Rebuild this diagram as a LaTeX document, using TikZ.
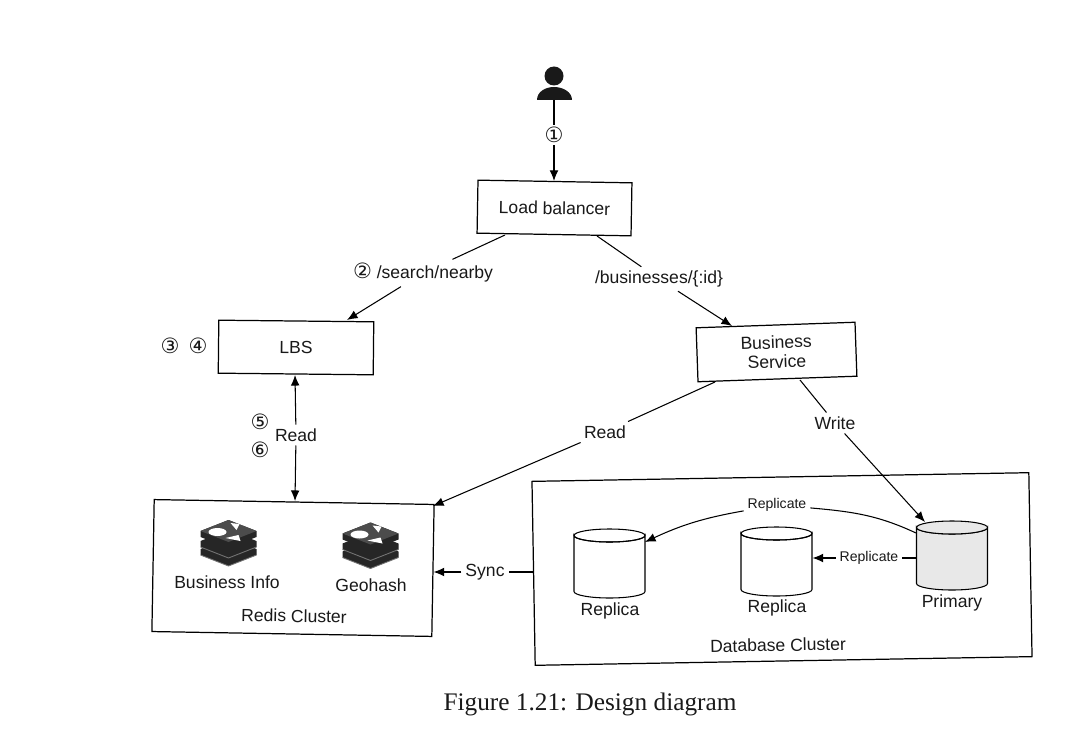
\documentclass[tikz,border=0pt]{standalone}
\usepackage{fontspec}
\setmainfont{Liberation Sans}
\newfontfamily\numfont{DejaVu Sans}
\newfontfamily\capfont{Liberation Serif}
\usetikzlibrary{arrows.meta, positioning}

\newcommand{\stepnum}[1]{{\numfont\fontsize{12}{12}\selectfont #1}}

\begin{document}
\begin{tikzpicture}[
        x=0.02cm, y=-0.02cm,
        line width=0.6pt,
        every node/.style={font=\fontsize{10}{12}\selectfont, text=black!90},
        box/.style={draw, line width=0.7pt, align=center, inner sep=0pt},
        label/.style={fill=white, inner sep=2pt},
        smalllabel/.style={fill=white, inner sep=2pt, font=\fontsize{8}{9}\selectfont},
        drumbox/.style={inner sep=0pt, minimum width=1.42cm, minimum height=1.38cm},
        arrow/.style={-{Latex[length=6pt, width=5pt]}},
        drum/.pic={
            \path[pic actions, draw] (-35.5,-28) -- (-35.5,28) arc (180:0:35.5 and 6.5) -- (35.5,-28)
                arc (0:180:35.5 and 6.5) -- cycle;
            \path[pic actions, draw] (0,-28) ellipse (35.5 and 6.5);
        },
        redisicon/.pic={
            \foreach \c in {6, -2} {
                \fill[black!85] (-28,\c) -- (0,\c-11) -- (28,\c) -- (28,\c+6) -- (0,\c+17) -- (-28,\c+6) -- cycle;
                \draw[black!55, line width=0.5pt] (-28,\c+6) -- (0,\c+17) -- (28,\c+6);
            }
            \fill[black!85] (-28,-12) -- (0,-23) -- (28,-12) -- (28,-6) -- (0,5) -- (-28,-6) -- cycle;
            \fill[black!70] (-28,-12) -- (0,-23) -- (28,-12) -- (0,-1) -- cycle;
            \fill[white] (-11,-11) ellipse (9 and 4);
            \fill[white] (2,-20) -- (11,-19) -- (8,-13) -- cycle;
            \fill[white] (-3,-5) -- (10,-8) -- (12,-2) -- cycle;
        }
    ]
    \useasboundingbox (0,0) rectangle (1077,729);

    % Person
    \fill[black!90] (554,76) circle (9.5);
    \fill[black!90] (537,100) .. controls (537,92) and (545,87) .. (554,87)
        .. controls (563,87) and (572,92) .. (572,100) -- cycle;
    \coordinate (user) at (554,100);

    % Services
    \node[box, rotate=-1, minimum width=3.08cm, minimum height=1.06cm] (lb) at (554.5,208) {Load balancer};
    \node[box, rotate=-0.6, minimum width=3.1cm, minimum height=1.06cm] (lbs) at (296,347.5) {LBS};
    \node[box, rotate=2, minimum width=3.18cm, minimum height=1.08cm] (bs) at (776.5,352) {Business\\[-1pt]Service};

    % Clusters
    \node[box, rotate=-1, minimum width=5.6cm, minimum height=2.64cm] (redis) at (293,568) {};
    \node[box, rotate=1, minimum width=9.94cm, minimum height=3.68cm] (db) at (782,569) {};

    \pic at (228.5,543) {redisicon};
    \pic at (370.5,545.5) {redisicon};
    \node (info) at (227,582) {Business Info};
    \node (geo) at (371,585) {Geohash};
    \node[rotate=-1] (redisname) at (294,616) {Redis Cluster};

    \node[drumbox] (rep1) at (609.5,563.5) {};
    \node[drumbox] (rep2) at (776.5,561.5) {};
    \node[drumbox] (prim) at (952,555.5) {};
    \pic at (rep1) {drum};
    \pic at (rep2) {drum};
    \pic[fill=black!9] at (prim) {drum};
    \node (rep1name) at (610,611) {Replica};
    \node (rep2name) at (777,608) {Replica};
    \node (primname) at (952,603) {Primary};
    \node[rotate=1] (dbname) at (778,645) {Database Cluster};

    % Labels on the lines
    \node[label, inner sep=1pt] (one) at (554,135) {\stepnum{①}};
    \node[label] (search) at (423,273) {\stepnum{②} /search/nearby};
    \node[label] (biz) at (659,279) {/businesses/\{:id\}};
    \node[label] (lbsread) at (296,435) {Read};
    \node[label] (bsread) at (605,432) {Read};
    \node[label] (write) at (835,423) {Write};
    \node[label] (sync) at (485,572) {Sync};
    \node[smalllabel] (rep1label) at (777,505) {Replicate};
    \node[smalllabel] (rep2label) at (869,558) {Replicate};

    \node (three) at (170,346) {\stepnum{③}};
    \node (four) at (198,346) {\stepnum{④}};
    \node (five) at (260,422) {\stepnum{⑤}};
    \node (six) at (260,450) {\stepnum{⑥}};

    % Connector ends
    \coordinate (lbleft) at (505,235);
    \coordinate (lbright) at (597,236);
    \coordinate (lbsin) at (347,320);
    \coordinate (bsin) at (732,326);
    \coordinate (bsleft) at (715,382);
    \coordinate (bsright) at (800,380);
    \coordinate (redisin) at (433,506);
    \coordinate (primin) at (925,522);
    \coordinate (primleft) at (916,533);
    \coordinate (rep1in) at (645,542);
    \coordinate (redistop) at (295,375);
    \coordinate (redisbot) at (295,501);

    \draw (user) -- (one);
    \draw[arrow] (one) -- (lb.north -| one);
    \draw (lbleft) -- (search);
    \draw[arrow] (search) -- (lbsin);
    \draw (lbright) -- (biz);
    \draw[arrow] (biz) -- (bsin);
    \draw[arrow] (lbsread) -- (redistop);
    \draw[arrow] (lbsread) -- (redisbot);
    \draw (bsleft) -- (bsread);
    \draw[arrow] (bsread) -- (redisin);
    \draw (bsright) -- (write);
    \draw[arrow] (write) -- (primin);
    \draw (db.west |- sync) -- (sync);
    \draw[arrow] (sync) -- (redis.east |- sync);
    \draw (primleft) to[out=155, in=-5] (rep1label);
    \draw[arrow] (rep1label) to[out=190, in=25] (rep1in);
    \draw (prim.west |- rep2label) -- (rep2label);
    \draw[arrow] (rep2label) -- (rep2.east |- rep2label);

    % Caption
    \node[font=\capfont\fontsize{14.4}{16}\selectfont] (caption) at (590,704) {Figure 1.21: Design diagram};
\end{tikzpicture}
\end{document}
